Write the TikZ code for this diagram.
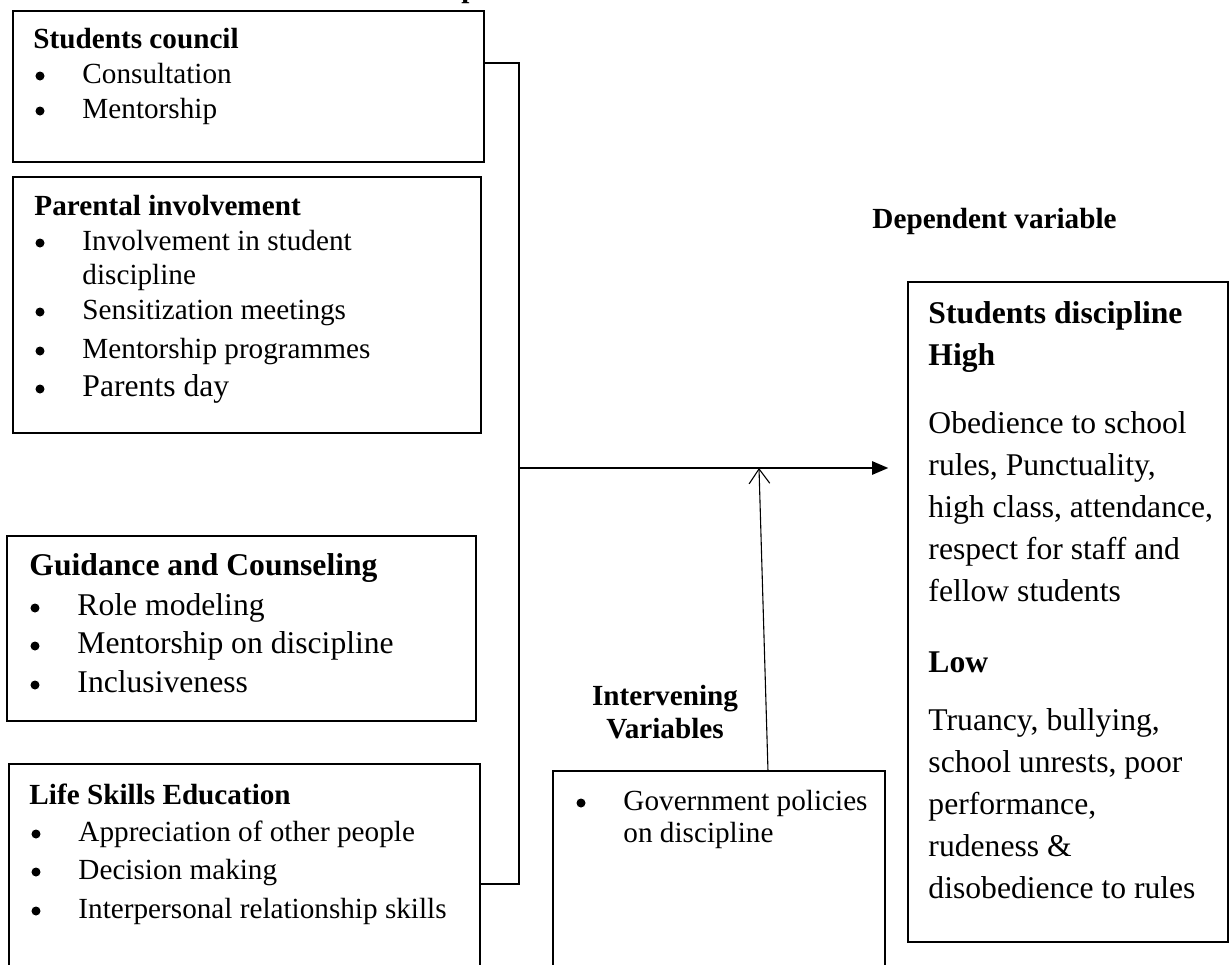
\documentclass[tikz,border=0pt]{standalone}
\usepackage{fontspec}
\setmainfont{Liberation Serif}
\usetikzlibrary{arrows.meta,fit,calc}
\begin{document}
\begin{tikzpicture}[x=0.411pt,y=-0.411pt,
  box/.style={draw, line width=0.6pt, inner sep=0pt},
  conn/.style={line width=0.8pt},
  txt/.style={anchor=base west, inner sep=0pt, font=\fontsize{12}{14}\selectfont},
  bigtxt/.style={anchor=base west, inner sep=0pt, font=\fontsize{13}{15}\selectfont},
  hd/.style={anchor=base west, inner sep=0pt, font=\fontsize{12}{14}\selectfont\bfseries},
  bighd/.style={anchor=base west, inner sep=0pt, font=\fontsize{13}{15}\selectfont\bfseries},
  ctrhd/.style={anchor=base, inner sep=0pt, font=\fontsize{12}{14}\selectfont\bfseries},
  dot/.style={circle, fill, inner sep=0pt, minimum size=3.7pt}
]
\useasboundingbox (0,0) rectangle (1231,965);
\clip (0,0) rectangle (1231,965);

% heading above the independent variables (only its descender shows)
\node[hd] (indep) at (404,-2.3) {Independent variables};

% ---- independent variable boxes ----
\node[box, fit={(13,11) (484,162)}] (council) {};
\node[hd] (council-t) at (33,48) {Students council};
\node[dot] (c1) at (40,76) {}; \node[txt] (c1t) at (82,83) {Consultation};
\node[dot] (c2) at (40,111) {}; \node[txt] (c2t) at (82,118) {Mentorship};

\node[box, fit={(13,177) (481,433)}] (parent) {};
\node[hd] (parent-t) at (34,215) {Parental involvement};
\node[dot] (p1) at (40,243) {}; \node[txt] (p1t) at (82,250) {Involvement in student};
\node[txt] (p1u) at (82,284) {discipline};
\node[dot] (p2) at (40,312) {}; \node[txt] (p2t) at (82,319) {Sensitization meetings};
\node[dot] (p3) at (40,351) {}; \node[txt] (p3t) at (82,358) {Mentorship programmes};
\node[dot] (p4) at (40,389) {}; \node[bigtxt] (p4t) at (82,396) {Parents day};

\node[box, fit={(7,536) (476,721)}] (guide) {};
\node[bighd] (guide-t) at (29,575) {Guidance and Counseling};
\node[dot] (g1) at (35,608) {}; \node[bigtxt] (g1t) at (77,615) {Role modeling};
\node[dot] (g2) at (35,646) {}; \node[bigtxt] (g2t) at (77,653) {Mentorship on discipline};
\node[dot] (g3) at (35,685) {}; \node[bigtxt] (g3t) at (77,692) {Inclusiveness};

\node[box, fit={(9,764) (480,1000)}] (life) {};
\node[hd] (life-t) at (29,804) {Life Skills Education};
\node[dot] (l1) at (36,834) {}; \node[txt] (l1t) at (78,841) {Appreciation of other people};
\node[dot] (l2) at (36,872) {}; \node[txt] (l2t) at (78,879) {Decision making};
\node[dot] (l3) at (36,911) {}; \node[txt] (l3t) at (78,918) {Interpersonal relationship skills};

% ---- intervening variable ----
\node[ctrhd] (int1) at (665,705) {Intervening};
\node[ctrhd] (int2) at (665,738) {Variables};
\node[box, fit={(553,771) (885,1000)}] (gov) {};
\node[dot] (v1) at (581,803) {}; \node[txt] (v1t) at (623,810) {Government policies};
\node[txt] (v1u) at (623,842) {on discipline};

% ---- dependent variable ----
\node[hd] (dep) at (872,228) {Dependent variable};
\node[box, fit={(908,282) (1228,942)}] (disc) {};
\node[bighd] (d0) at (928,323) {Students discipline};
\node[bighd] (d1) at (928,365) {High};
\node[bigtxt] (d2) at (928,433) {Obedience to school};
\node[bigtxt] (d3) at (928,475) {rules, Punctuality,};
\node[bigtxt] (d4) at (928,517) {high class, attendance,};
\node[bigtxt] (d5) at (928,559) {respect for staff and};
\node[bigtxt] (d6) at (928,601) {fellow students};
\node[bighd] (d7) at (928,672) {Low};
\node[bigtxt] (d8) at (928,730) {Truancy, bullying,};
\node[bigtxt] (d9) at (928,772) {school unrests, poor};
\node[bigtxt] (d10) at (928,814) {performance,};
\node[bigtxt] (d11) at (928,856) {rudeness \&};
\node[bigtxt] (d12) at (928,898) {disobedience to rules};

% ---- connectors ----
\coordinate (jtop) at (519,63);
\coordinate (jbot) at (519,884);
\coordinate (jmid) at (519,468);
\coordinate (hit) at (759,468);
\coordinate (govtop) at (768,771);
\draw[conn] (council.east |- jtop) -- (jtop) -- (jbot) -- (life.east |- jbot);
\draw[conn, -{Triangle[length=6.6pt,width=5.4pt]}, shorten >=7.8pt] (jmid) -- (disc.west |- jmid);
\draw[line width=0.45pt, -{Straight Barb[length=6pt,width=8.5pt]}] (govtop) -- (hit);
\end{tikzpicture}
\end{document}
